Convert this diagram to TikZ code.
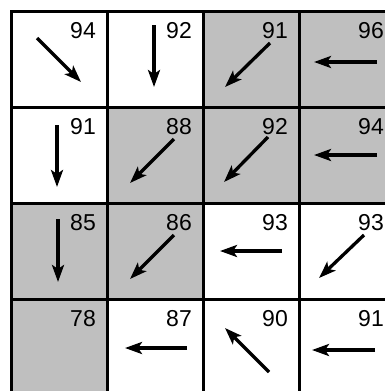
\documentclass[tikz,border=0pt]{standalone}
\usepackage{fontspec}
\setmainfont{Liberation Sans}
\usetikzlibrary{arrows.meta}
\colorlet{cellgray}{gray!50}

\begin{document}
\begin{tikzpicture}[x=1pt, y=-1pt,
  every node/.style={font=\fontsize{23}{23}\selectfont},
  cellbox/.style={draw=black, line width=2.8pt, minimum size=96pt, inner sep=0pt, anchor=north west},
  numlbl/.style={anchor=base east, inner sep=0pt},
  arr/.style={-{Stealth[length=17pt, width=12pt, inset=4pt]}, line width=3.3pt}
]
  \useasboundingbox (0,0) rectangle (385,391);
  \fill[white] (0,0) rectangle (385,391);
  \clip (0,0) rectangle (385,391);

  % --- cells with values ---
  \foreach \r/\c/\val/\fillc in {
      1/1/94/white, 1/2/92/white, 1/3/91/cellgray, 1/4/96/cellgray,
      2/1/91/white, 2/2/88/cellgray, 2/3/92/cellgray, 2/4/94/cellgray,
      3/1/85/cellgray, 3/2/86/cellgray, 3/3/93/white, 3/4/93/white,
      4/1/78/cellgray, 4/2/87/white, 4/3/90/white, 4/4/91/white} {
    \node[cellbox, fill=\fillc] (c\r\c) at ({10+96*(\c-1)},{10+96*(\r-1)}) {};
    \node[numlbl] (n\r\c) at ([shift={(86,28)}]c\r\c.north west) {\val};
  }

  % --- arrows: tail and head inside each cell ---
  \foreach \r/\c/\xa/\ya/\xb/\yb in {
      1/1/27/28/71/72, 1/2/48/15/48/77, 1/3/68/33/23/77, 1/4/79/52/16/52,
      2/1/47/19/47/81, 2/2/68/33/24/77, 2/3/66/31/22/76, 2/4/79/49/16/49,
      3/1/48/17/48/80, 3/2/68/33/24/77, 3/3/80/49/18/49, 3/4/66/33/21/76,
      4/2/81/50/19/50, 4/3/67/74/23/30, 4/4/77/52/14/52} {
    \draw[arr] ([shift={(\xa,\ya)}]c\r\c.north west)
            -- ([shift={(\xb,\yb)}]c\r\c.north west);
  }
\end{tikzpicture}
\end{document}
